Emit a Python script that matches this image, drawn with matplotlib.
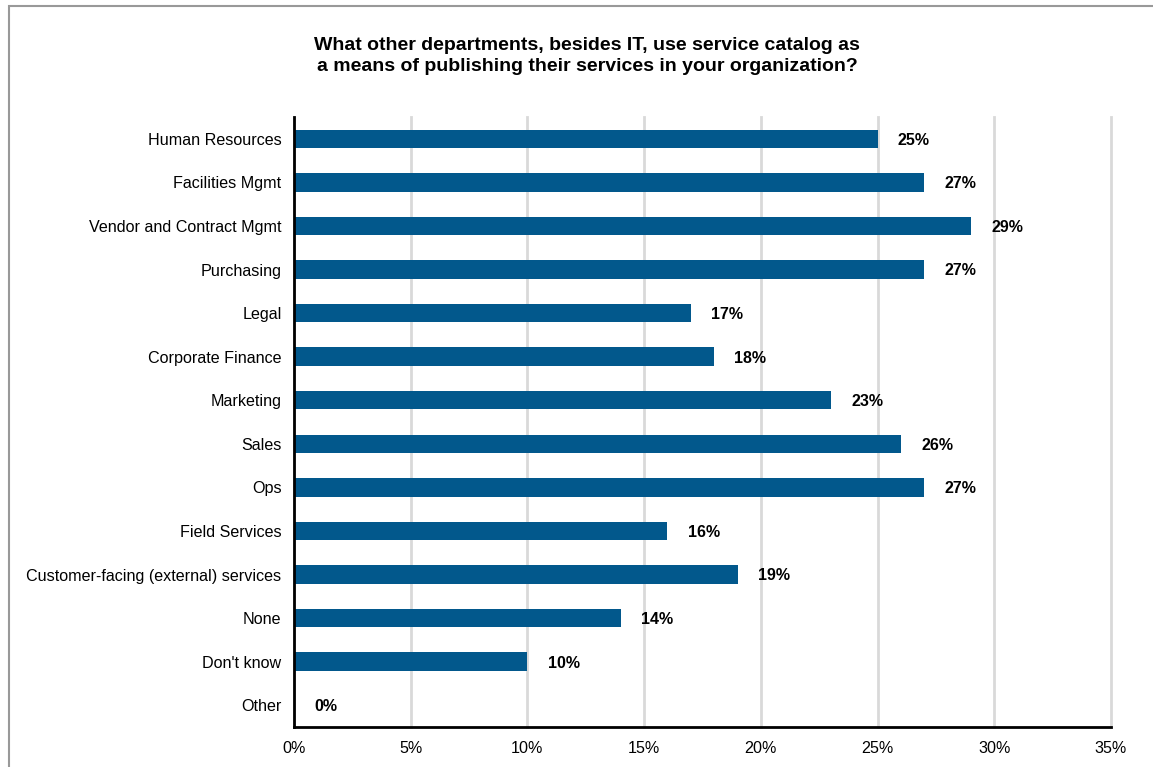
import matplotlib.pyplot as plt
from matplotlib.patches import Rectangle

plt.rcParams['font.family'] = ['Liberation Sans', 'DejaVu Sans']

categories = ["Human Resources", "Facilities Mgmt", "Vendor and Contract Mgmt",
              "Purchasing", "Legal", "Corporate Finance", "Marketing", "Sales",
              "Ops", "Field Services", "Customer-facing (external) services",
              "None", "Don't know", "Other"]
values = [25, 27, 29, 27, 17, 18, 23, 26, 27, 16, 19, 14, 10, 0]
xticks = [0, 5, 10, 15, 20, 25, 30, 35]

fig = plt.figure(figsize=(11.53, 7.67), dpi=100)
ax = fig.add_axes([294 / 1153, 1 - 727 / 767, (1111 - 294) / 1153, 610 / 767])

y = list(range(len(categories)))
ax.barh(y, values, height=0.42, color="#02588c", zorder=3)
for yi, v in zip(y, values):
    ax.annotate(f"{v}%", (v, yi), xytext=(14.5, -1), textcoords="offset points",
                va="center", ha="left", fontsize=11.5, fontweight="bold")

ax.set_ylim(len(categories) - 0.5, -0.5)
ax.set_yticks(y)
ax.set_yticklabels(categories, fontsize=11.6)
ax.set_xlim(0, 35)
ax.set_xticks(xticks)
ax.set_xticklabels([f"{t}%" for t in xticks], fontsize=11.6)
ax.tick_params(axis="y", length=0, pad=9)
ax.tick_params(axis="x", length=0, pad=10)
ax.grid(axis="x", color="#d9d9d9", linewidth=2, zorder=0)
for gl in ax.get_xgridlines():
    gl.set_clip_on(False)
for s in ["top", "right"]:
    ax.spines[s].set_visible(False)
for s in ["left", "bottom"]:
    ax.spines[s].set_linewidth(2)
    ax.spines[s].set_color("black")
    ax.spines[s].set_zorder(4)

fig.text(587 / 1153, 1 - 56 / 767,
         "What other departments, besides IT, use service catalog as\n"
         "a means of publishing their services in your organization?",
         ha="center", va="center", fontsize=14, fontweight="bold", linespacing=1.3)

fig.patches.append(Rectangle((9 / 1153, -0.1), 1.2, 1 - 6 / 767 + 0.1,
                             transform=fig.transFigure, fill=False,
                             edgecolor="#999999", linewidth=1.5))

fig.savefig("out.png", dpi=100)
